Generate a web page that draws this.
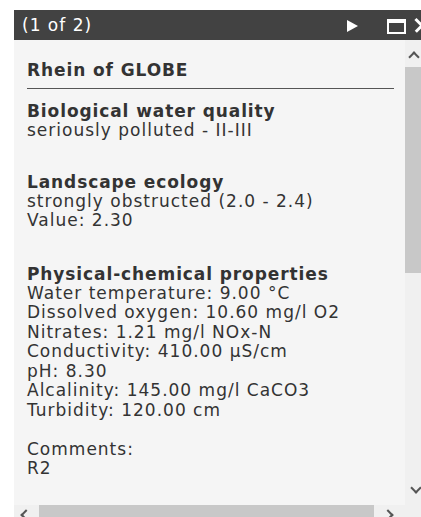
<!DOCTYPE html>
<html>
<head>
<meta charset="utf-8">
<script src="https://cdn.jsdelivr.net/npm/chart.js@4/dist/chart.umd.min.js"></script>
<style>
html,body{margin:0;padding:0;background:#fff;width:421px;height:517px;overflow:hidden;}
body{font-family:"DejaVu Sans",Verdana,sans-serif;color:#333;}
#popup{position:absolute;left:14px;top:10px;width:420px;height:520px;}
#hdr{position:absolute;left:0;top:0;width:420px;height:30px;background:#424242;color:#fff;}
#hdr .t{position:absolute;left:8px;top:4px;font-size:17px;letter-spacing:1px;line-height:22px;white-space:nowrap;}
#play{position:absolute;left:333px;top:10px;width:0;height:0;border-top:6px solid transparent;border-bottom:6px solid transparent;border-left:11px solid #fff;}
#max{position:absolute;left:373px;top:9px;width:15px;height:9px;border:2px solid #fff;border-top-width:4px;}
.xl{position:absolute;left:399px;top:14px;width:18px;height:2.5px;background:#fff;}
#x1{transform:rotate(45deg);}#x2{transform:rotate(-45deg);}
#content{position:absolute;left:0;top:30px;width:391px;height:465px;background:#f5f5f5;overflow:hidden;}
#vbar{position:absolute;left:391px;top:30px;width:30px;height:490px;background:#f0f0f0;}
#vthumb{position:absolute;left:0;top:27px;width:30px;height:206px;background:#c8c8c8;}
#vup{position:absolute;left:5px;top:13px;width:6px;height:6px;border-left:2px solid #555;border-top:2px solid #555;transform:rotate(45deg);}
#vdown{position:absolute;left:7px;top:444px;width:6px;height:6px;border-right:2px solid #555;border-bottom:2px solid #555;transform:rotate(45deg);}
#hbar{position:absolute;left:0;top:495px;width:391px;height:25px;background:#f0f0f0;}
#hthumb{position:absolute;left:25px;top:0;width:335px;height:25px;background:#c8c8c8;}
#hl{position:absolute;left:8px;top:6px;width:6px;height:6px;border-left:2px solid #555;border-bottom:2px solid #555;transform:rotate(45deg);}
#hr{position:absolute;left:370px;top:6px;width:6px;height:6px;border-right:2px solid #555;border-top:2px solid #555;transform:rotate(45deg);}
#inner{position:absolute;left:13px;top:0;width:367px;font-size:17px;letter-spacing:1px;line-height:19.5px;white-space:nowrap;}
h1{font-size:17px;letter-spacing:0.9px;font-weight:bold;margin:20px 0 0 0;line-height:20px;}
hr{border:0;border-top:1px solid #555;margin:8px 0 0 0;}
h2{font-size:17px;letter-spacing:0.9px;font-weight:bold;margin:0;line-height:20px;}
p{margin:0;}
.gap{height:19.5px;}
</style>
</head>
<body>
<div id="popup">
  <div id="hdr"><span class="t" id="pager"></span><div id="play"></div><div id="max"></div><div class="xl" id="x1"></div><div class="xl" id="x2"></div></div>
  <div id="content"><div id="inner"></div></div>
  <div id="hbar"><div id="hl"></div><div id="hthumb"></div><div id="hr"></div></div>
  <div id="vbar"><div id="vup"></div><div id="vthumb"></div><div id="vdown"></div></div>
</div>
<canvas id="c" width="1" height="1" style="display:none"></canvas>
<script>
const pager = "(1 of 2)";
const title = "Rhein of GLOBE";
const bioHeader = "Biological water quality";
const bioLines = ["seriously polluted - II-III"];
const landHeader = "Landscape ecology";
const landLines = ["strongly obstructed (2.0 - 2.4)", "Value: 2.30"];
const physHeader = "Physical-chemical properties";
const physNames = ["Water temperature", "Dissolved oxygen", "Nitrates", "Conductivity", "pH", "Alcalinity", "Turbidity"];
const physValues = [9.00, 10.60, 1.21, 410.00, 8.30, 145.00, 120.00];
const physUnits = ["°C", "mg/l O2", "mg/l NOx-N", "µS/cm", "", "mg/l CaCO3", "cm"];
const commentsLabel = "Comments:";
const commentsText = "R2";

document.getElementById('pager').textContent = pager;
const inner = document.getElementById('inner');
let html = '<h1>' + title + '</h1><hr>';
html += '<div style="margin-top:12px"><h2>' + bioHeader + '</h2>' + bioLines.map(l => '<p>' + l + '</p>').join('') + '</div>';
html += '<div style="margin-top:31px"><h2>' + landHeader + '</h2>' + landLines.map(l => '<p>' + l + '</p>').join('') + '</div>';
html += '<div style="margin-top:33px"><h2>' + physHeader + '</h2>' +
  physNames.map((n, i) => '<p>' + n + ': ' + physValues[i].toFixed(2) + (physUnits[i] ? ' ' + physUnits[i] : '') + '</p>').join('') + '</div>';
html += '<div class="gap"></div><p>' + commentsLabel + '</p><p>' + commentsText + '</p>';
inner.innerHTML = html;
</script>
</body>
</html>
